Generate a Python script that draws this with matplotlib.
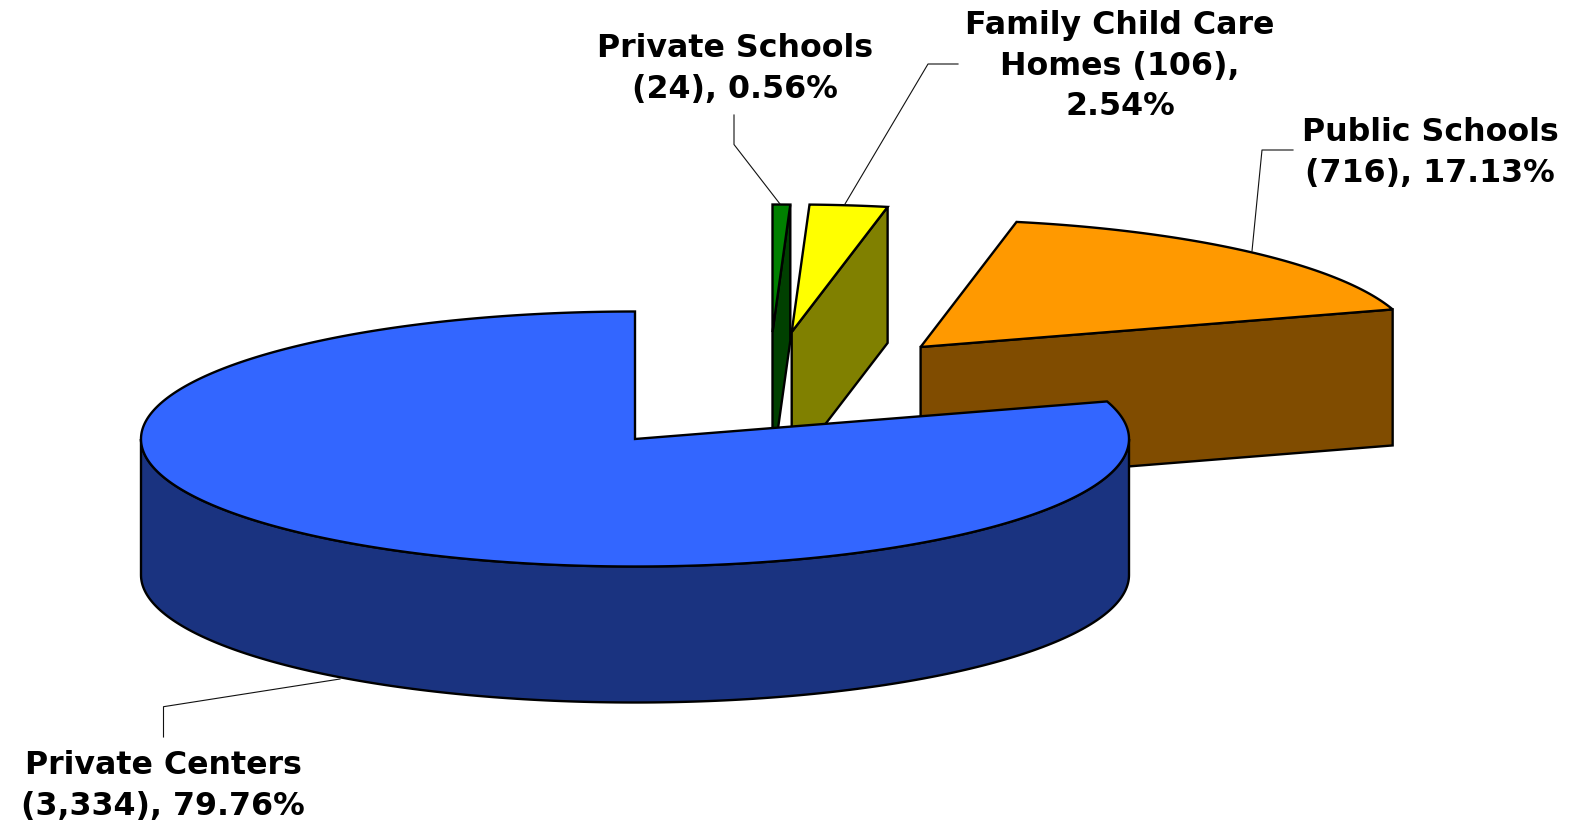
import numpy as np
import matplotlib
matplotlib.use("Agg")
import matplotlib.pyplot as plt

# provider counts, listed clockwise from 12 o'clock
categories = ["Private Schools", "Family Child Care Homes", "Public Schools", "Private Centers"]
counts = [24, 106, 716, 3334]
labels = [
    "Private Schools\n(24), 0.56%",
    "Family Child Care\nHomes (106),\n2.54%",
    "Public Schools\n(716), 17.13%",
    "Private Centers\n(3,334), 79.76%",
]

top_colors = ["#008000", "#ffff00", "#ff9900", "#3366ff"]
side_colors = ["#004000", "#808000", "#804c00", "#1a3380"]

# pie geometry, in pixels
RX = 494.0
RY = 127.5
DEPTH = 136.0
apexes = [(772.5, 332.0), (791.7, 332.0), (920.6, 347.0), (635.0, 439.0)]
EDGE = 1.7

label_pos = [(735, 69), (1120, 66), (1430, 153), (163, 786)]
leaders = [
    [(734, 115), (734, 144.5), (780, 204)],
    [(958, 64), (928, 64), (845, 204)],
    [(1293, 150), (1262, 150), (1252, 251)],
    [(163.5, 737), (163.5, 706.7), (340, 679)],
]


def rim(apex, a0, a1, n=200):
    # a0, a1 in degrees, counter-clockwise positive
    t = np.radians(np.linspace(a0, a1, n))
    return np.column_stack([apex[0] + RX * np.cos(t), apex[1] - RY * np.sin(t)])


def poly(ax, pts, color):
    ax.fill(pts[:, 0], pts[:, 1], facecolor=color, edgecolor="black",
            linewidth=EDGE, joinstyle="miter")


fig = plt.figure(figsize=(15.75, 8.25), dpi=100)
ax = fig.add_axes([0, 0, 1, 1])
ax.set_xlim(0, 1575)
ax.set_ylim(825, 0)
ax.axis("off")

fracs = np.array(counts) / sum(counts)
starts = 90 - 360 * np.concatenate([[0], np.cumsum(fracs)[:-1]])
ends = starts - 360 * fracs
shift = np.array([0, DEPTH])

# small slices first, the big one sits in front of them
for i in range(3):
    apex = np.array(apexes[i])
    arc = rim(apex, starts[i], ends[i])
    # radial cut on the clockwise side faces the viewer
    cut = np.array([apex, arc[-1], arc[-1] + shift, apex + shift])
    poly(ax, cut, side_colors[i])
    poly(ax, np.vstack([apex, arc]), top_colors[i])

# big slice: curved wall along the front half, then the top
apex = np.array(apexes[3])
wall = rim(apex, -180, 0)
poly(ax, np.vstack([wall, (wall + shift)[::-1]]), side_colors[3])
poly(ax, np.vstack([apex, rim(apex, starts[3], ends[3], 600)]), top_colors[3])

for pts in leaders:
    pts = np.array(pts)
    ax.plot(pts[:, 0], pts[:, 1], color="#111111", linewidth=0.8, zorder=1.5)

for text, (x, y) in zip(labels, label_pos):
    ax.text(x, y, text, ha="center", va="center", fontsize=22.8,
            fontweight="bold", family="DejaVu Sans", linespacing=1.41, color="black")

fig.savefig("out.png", dpi=100)
